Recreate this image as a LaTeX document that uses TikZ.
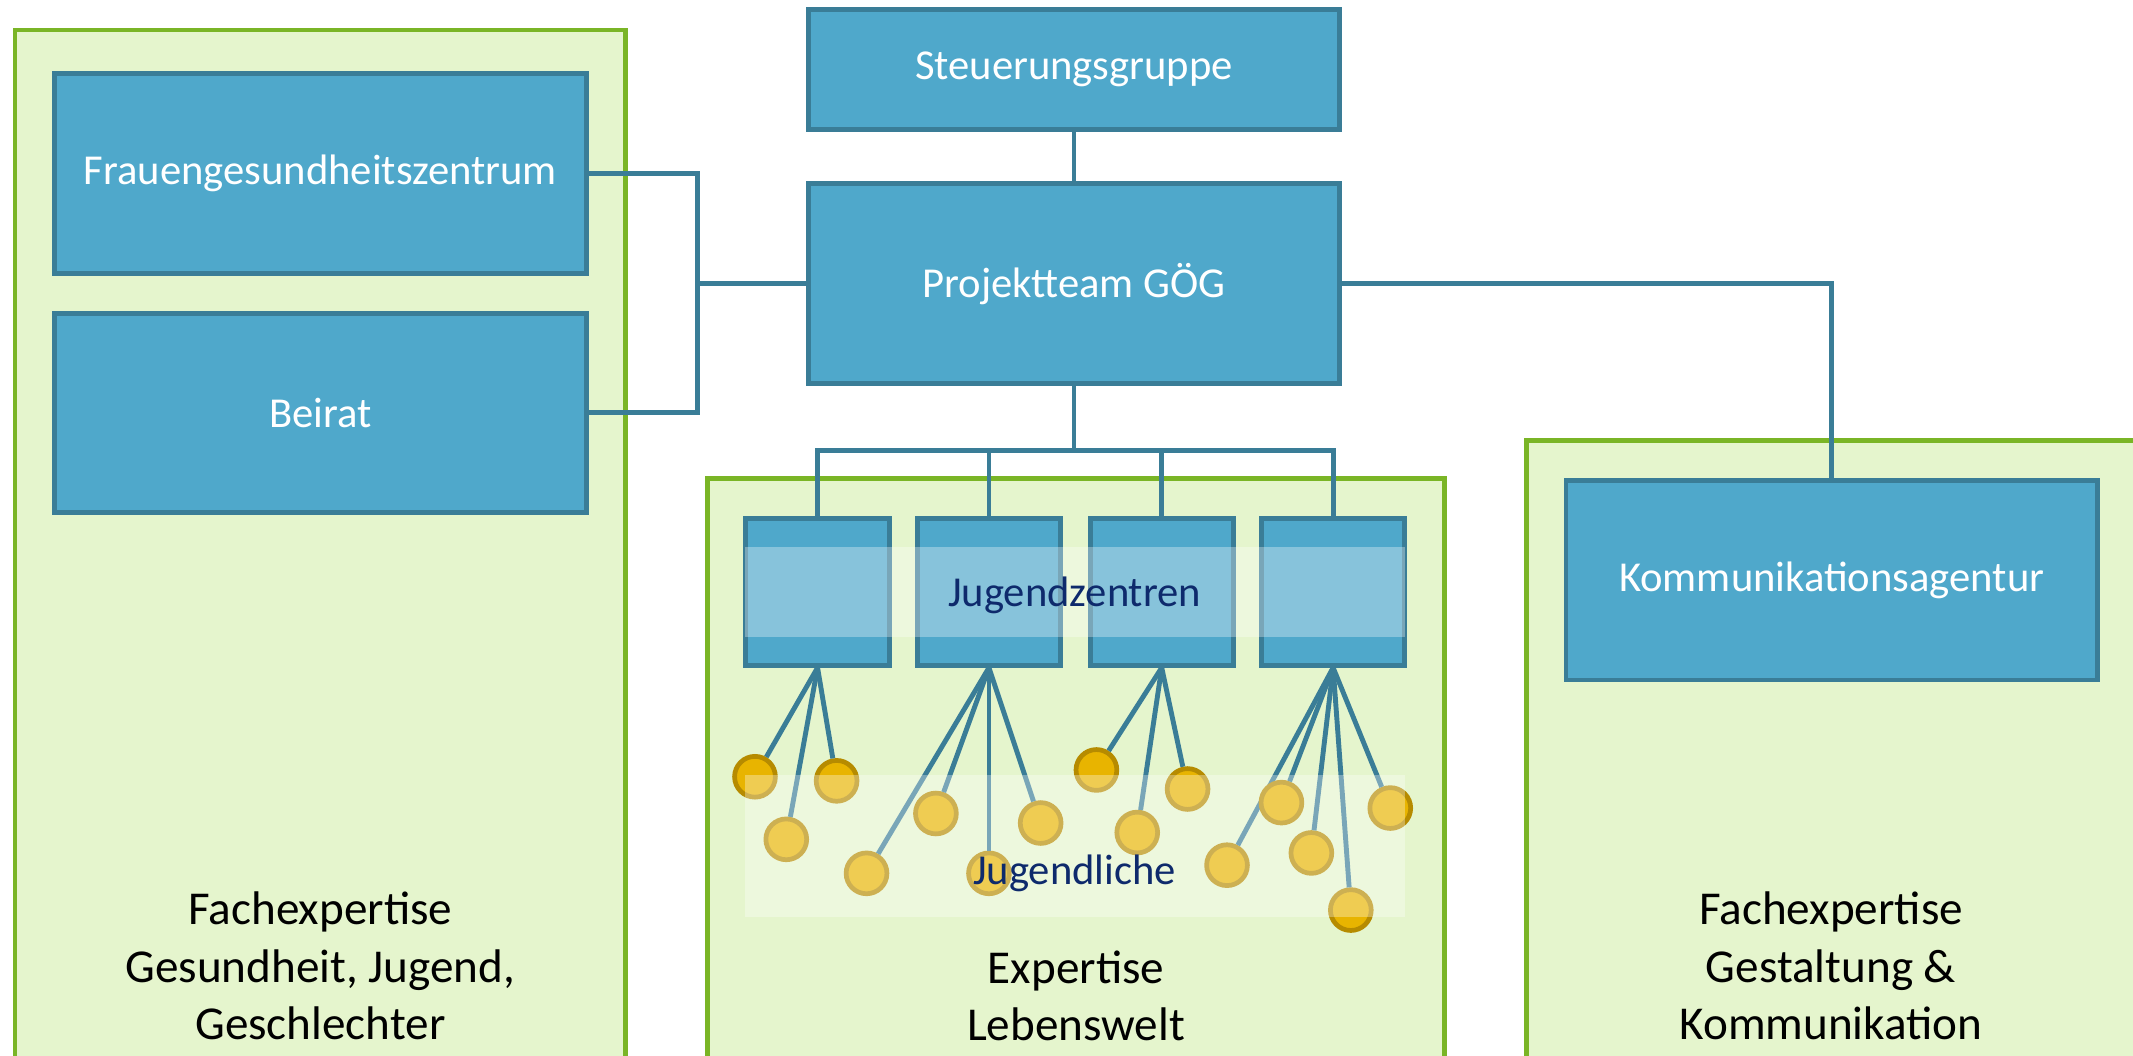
\documentclass[tikz,border=0pt]{standalone}
\usepackage{fontspec}
\setmainfont{Carlito}
\usetikzlibrary{positioning}

\definecolor{boxblue}{HTML}{4FA8CB}
\definecolor{boxedge}{HTML}{3A7D97}
\definecolor{linkblue}{HTML}{3A7D97}
\definecolor{areagreen}{HTML}{E5F5CD}
\definecolor{areaedge}{HTML}{7AB526}
\definecolor{dotgold}{HTML}{E8B400}
\definecolor{dotedge}{HTML}{B68B00}
\definecolor{navy}{HTML}{0E2A6C}

\tikzset{
  area/.style={draw=areaedge,fill=areagreen,line width=2.6pt},
  unit/.style={rectangle,draw=boxedge,fill=boxblue,line width=2.7pt,text=white,
    font=\fontsize{23.5}{28}\selectfont,inner sep=0pt,
    minimum width=293pt,minimum height=110pt},
  centre/.style={unit,minimum width=79pt,minimum height=81pt},
  link/.style={draw=linkblue,line width=2.7pt},
  dot/.style={circle,draw=dotedge,fill=dotgold,line width=2.6pt,
    minimum size=22.5pt,inner sep=0pt},
  band/.style={fill=white,fill opacity=0.32,draw=none},
  bandtext/.style={text=navy,font=\fontsize{23.5}{28}\selectfont},
  footer/.style={align=center,font=\fontsize{26}{31.5}\selectfont}
}

\begin{document}
\begin{tikzpicture}[x=0.75pt,y=0.75pt,yscale=-1,xscale=1]
\clip (0,0) rectangle (1568,776);
\fill[white] (0,0) rectangle (1568,776);

% fields of expertise
\draw[area] (11,22) rectangle (460,800);
\draw[area] (520,352) rectangle (1062,800);
\draw[area] (1122,324) rectangle (1600,800);

% organisation
\node[unit,minimum height=66pt] (steer) at (789.5,51) {Steuerungsgruppe};
\node[unit] (team) at (789.5,208.5) {Projektteam GÖG};
\node[unit] (fgz) at (235.5,127.5) {Frauengesundheitszentrum};
\node[unit] (beirat) at (235.5,303.5) {Beirat};
\node[unit] (agentur) at (1346.5,426.5) {Kommunikationsagentur};

\node[centre] (jz1) at (601,435) {};
\node[centre] (jz2) at (727,435) {};
\node[centre] (jz3) at (854,435) {};
\node[centre] (jz4) at (980,435) {};

\coordinate (hub) at (513,208.5);
\coordinate (fork) at (789.5,331);

\draw[link] (steer) -- (team);
\draw[link] (team.west) -- (hub);
\draw[link] (fgz.east) -| (hub) |- (beirat.east);
\draw[link] (team.east) -| (agentur.north);
\draw[link] (team.south) -- (fork);
\foreach \i in {1,...,4}
  \draw[link] (fork) -| (jz\i.north);

% young people
\foreach \n/\px/\py/\j in {a/555/571/1, b/615/574/1, c/578/617/1,
    d/637/642/2, e/688/598/2, f/727/642/2, g/765/605/2,
    h/806/566/3, i/873/580/3, k/836/612/3,
    l/902/636/4, m/942/590/4, n/964/627/4, o/993/669/4, p/1022/594/4}{
  \node[dot] (d\n) at (\px,\py) {};
  \draw[link] (jz\j.south) -- (d\n);
}

\fill[band] (548,402) rectangle (1033,468);
\fill[band] (548,570) rectangle (1033,674);
\node[bandtext] (jzlabel) at (790,438) {Jugendzentren};
\node[bandtext] (jlabel) at (790,642) {Jugendliche};

\node[footer] (left) at (235.5,710) {Fachexpertise\\Gesundheit, Jugend,\\Geschlechter};
\node[footer] (mid) at (791,732) {Expertise\\Lebenswelt};
\node[footer] (right) at (1346,710) {Fachexpertise\\Gestaltung \&\\Kommunikation};
\end{tikzpicture}
\end{document}
